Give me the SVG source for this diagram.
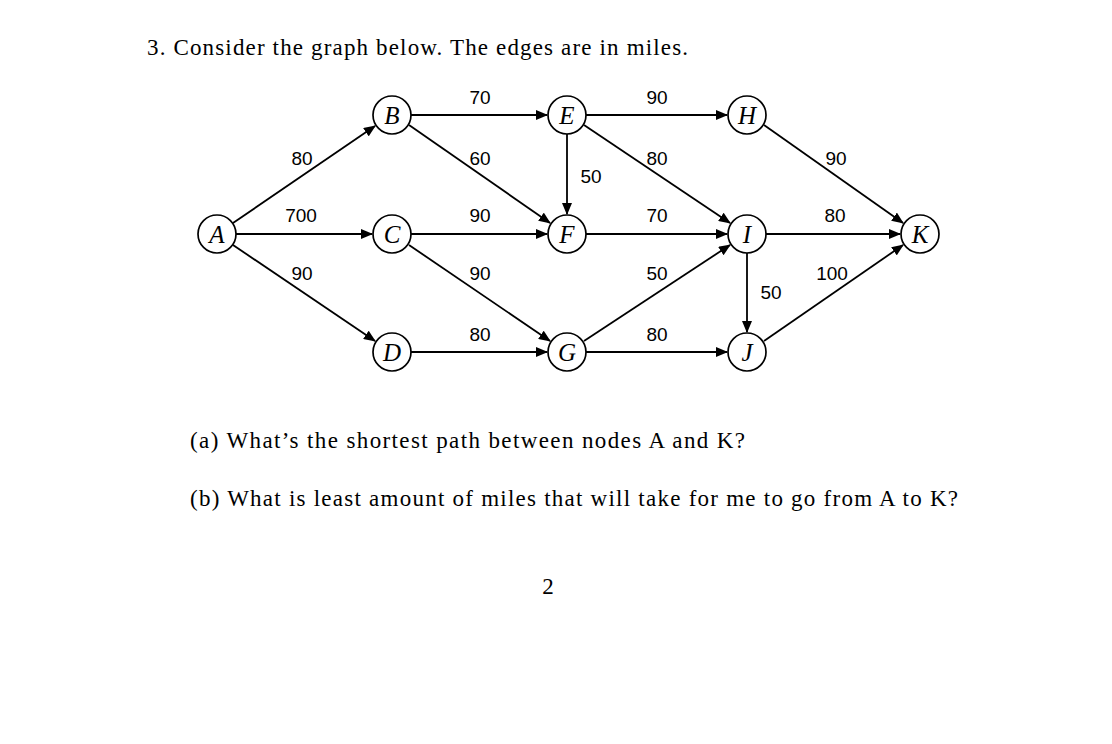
<svg xmlns="http://www.w3.org/2000/svg" width="1112" height="744" viewBox="0 0 1112 744">
<style>
.t{font-family:"Liberation Serif",serif;font-size:23px;fill:#000}
.n circle{fill:#fff;stroke:#000;stroke-width:1.7}
.n text{font-family:"Liberation Serif",serif;font-style:italic;font-size:25px;text-anchor:middle}
.l{font-family:"Liberation Sans",sans-serif;font-size:19px;text-anchor:middle}
#edges line{stroke:#000;stroke-width:1.8;marker-end:url(#ah)}
</style>
<defs><marker id="ah" markerWidth="12" markerHeight="10" refX="11" refY="5" orient="auto" markerUnits="userSpaceOnUse"><path d="M0,0 L12,5 L0,10 Z" fill="#000"/></marker></defs>
<rect width="1112" height="744" fill="#fff"/>
<text class="t" x="147" y="55" textLength="541" lengthAdjust="spacing">3. Consider the graph below. The edges are in miles.</text>
<g id="edges">
<line x1="233" y1="223" x2="375" y2="126"/>
<line x1="236" y1="234" x2="372" y2="234"/>
<line x1="233" y1="245" x2="375" y2="341"/>
<line x1="411" y1="115" x2="547" y2="115"/>
<line x1="409" y1="125" x2="550" y2="223"/>
<line x1="411" y1="234" x2="547" y2="234"/>
<line x1="409" y1="245" x2="550" y2="341"/>
<line x1="411" y1="352" x2="547" y2="352"/>
<line x1="567" y1="134" x2="567" y2="214"/>
<line x1="586" y1="115" x2="727" y2="115"/>
<line x1="584" y1="125" x2="730" y2="223"/>
<line x1="586" y1="234" x2="727" y2="234"/>
<line x1="584" y1="341" x2="730" y2="245"/>
<line x1="586" y1="352" x2="727" y2="352"/>
<line x1="764" y1="125" x2="903" y2="223"/>
<line x1="766" y1="234" x2="900" y2="234"/>
<line x1="747" y1="253" x2="747" y2="332"/>
<line x1="764" y1="341" x2="903" y2="245"/>
</g>
<g class="l">
<text x="480" y="104">70</text><text x="302" y="165">80</text><text x="480" y="165">60</text>
<text x="301" y="222">700</text><text x="480" y="222">90</text><text x="302" y="280">90</text>
<text x="480" y="280">90</text><text x="480" y="341">80</text><text x="657" y="104">90</text>
<text x="657" y="165">80</text><text x="591" y="183">50</text><text x="657" y="222">70</text>
<text x="835" y="222">80</text><text x="836" y="165">90</text><text x="657" y="280">50</text>
<text x="832" y="280">100</text><text x="771" y="299">50</text><text x="657" y="341">80</text>
</g>
<g id="A" class="n"><circle cx="217" cy="234" r="19"/><text x="217" y="243">A</text></g>
<g id="B" class="n"><circle cx="392" cy="115" r="19"/><text x="392" y="124">B</text></g>
<g id="C" class="n"><circle cx="392" cy="234" r="19"/><text x="392" y="243">C</text></g>
<g id="D" class="n"><circle cx="392" cy="352" r="19"/><text x="392" y="361">D</text></g>
<g id="E" class="n"><circle cx="567" cy="115" r="19"/><text x="567" y="124">E</text></g>
<g id="F" class="n"><circle cx="567" cy="234" r="19"/><text x="567" y="243">F</text></g>
<g id="G" class="n"><circle cx="567" cy="352" r="19"/><text x="567" y="361">G</text></g>
<g id="H" class="n"><circle cx="747" cy="115" r="19"/><text x="747" y="124">H</text></g>
<g id="I" class="n"><circle cx="747" cy="234" r="19"/><text x="747" y="243">I</text></g>
<g id="J" class="n"><circle cx="747" cy="352" r="19"/><text x="747" y="361">J</text></g>
<g id="K" class="n"><circle cx="920" cy="234" r="19"/><text x="920" y="243">K</text></g>
<text class="t" x="190" y="448" textLength="555" lengthAdjust="spacing">(a)  What’s the shortest path between nodes A and K?</text>
<text class="t" x="190" y="506" textLength="768" lengthAdjust="spacing">(b)  What is least amount of miles that will take for me to go from A to K?</text>
<text class="t" x="548" y="594" text-anchor="middle">2</text>
</svg>
